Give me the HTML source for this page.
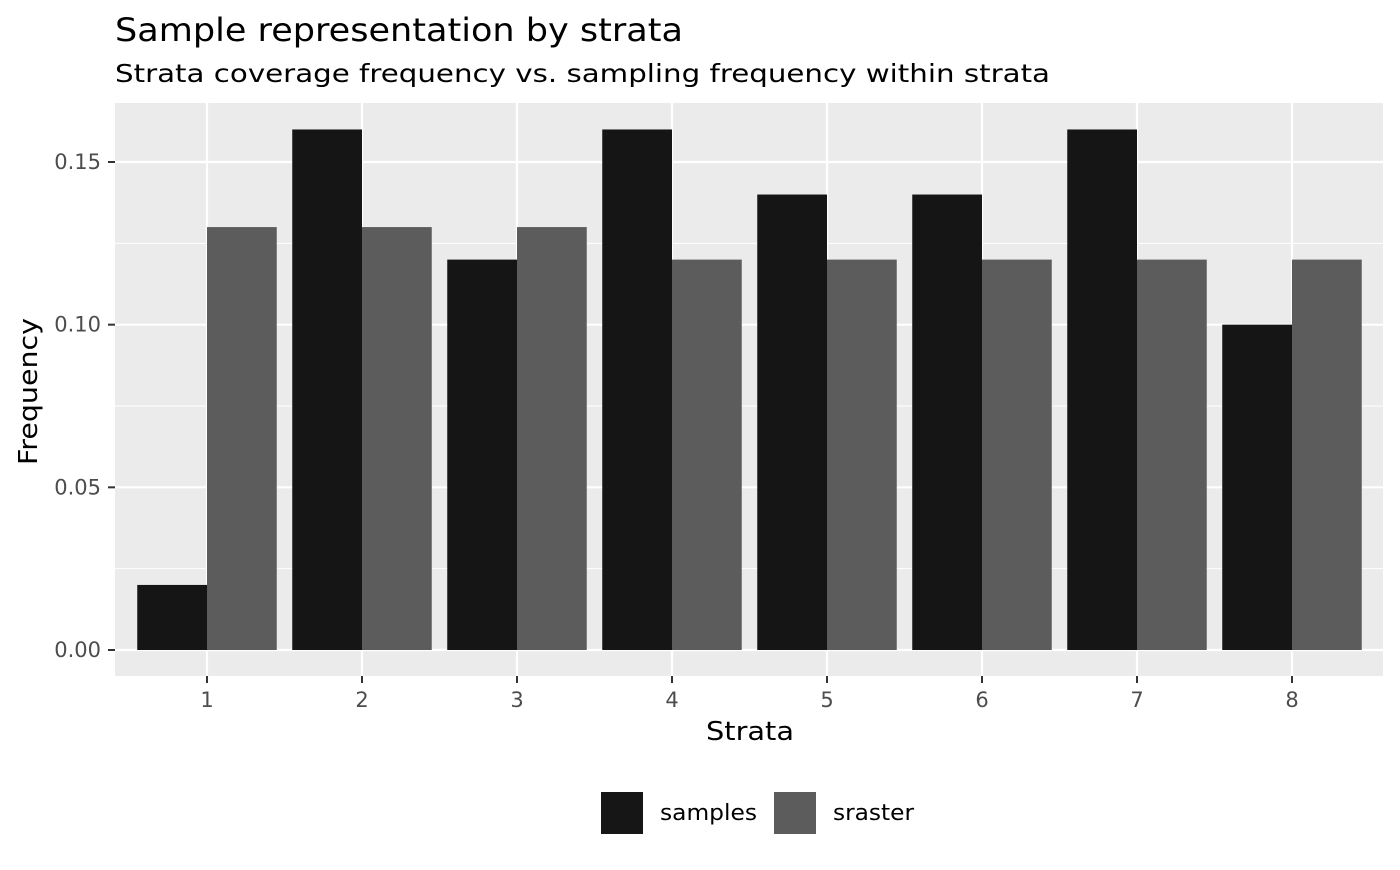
<!DOCTYPE html>
<html><head><meta charset="utf-8"><style>
body{margin:0;background:#fff;}
text{font-family:"DejaVu Sans","Liberation Sans",sans-serif;}
</style></head><body>
<svg id="c" width="1400" height="865" xmlns="http://www.w3.org/2000/svg">
<text x="115" y="41" font-size="32" textLength="568" lengthAdjust="spacingAndGlyphs" fill="#000">Sample representation by strata</text>
<text x="115" y="82" font-size="25" textLength="935" lengthAdjust="spacingAndGlyphs" fill="#000">Strata coverage frequency vs. sampling frequency within strata</text>
<rect x="115" y="103" width="1268" height="573" fill="#ebebeb"/>
<g id="grid"></g><g id="bars"></g><g id="axes"></g>
<text x="706" y="740" font-size="26" textLength="88" lengthAdjust="spacingAndGlyphs" fill="#000">Strata</text>
<text transform="translate(37,465) rotate(-90)" font-size="26" textLength="147" lengthAdjust="spacingAndGlyphs" fill="#000">Frequency</text>
<g>
<rect x="601" y="792" width="42" height="42" fill="#161616"/>
<text x="660" y="820" font-size="22" textLength="97" lengthAdjust="spacingAndGlyphs">samples</text>
<rect x="774" y="792" width="42" height="42" fill="#5c5c5c"/>
<text x="833" y="820" font-size="22" textLength="81" lengthAdjust="spacingAndGlyphs">sraster</text>
</g>
</svg>
<script>
const categories=["1","2","3","4","5","6","7","8"];
const samples=[0.02,0.16,0.12,0.16,0.14,0.14,0.16,0.10];
const sraster=[0.13,0.13,0.13,0.12,0.12,0.12,0.12,0.12];
const yTicks=[0,0.05,0.10,0.15];
const yTickLabels=["0.00","0.05","0.10","0.15"];
const NS="http://www.w3.org/2000/svg";
const y=v=>650-v*(488/0.15);
const x=i=>207+i*155;
function mk(t,a,p){const e=document.createElementNS(NS,t);for(const k in a)e.setAttribute(k,a[k]);p.appendChild(e);return e;}
const grid=document.getElementById('grid'),bars=document.getElementById('bars'),axes=document.getElementById('axes');
for(let i=0;i<yTicks.length-1;i++){const m=(yTicks[i]+yTicks[i+1])/2;
 const l=mk('line',{x1:115,x2:1383,y1:y(m),y2:y(m),stroke:'#fff','stroke-width':1},grid);
 
 }
yTicks.forEach((v,i)=>{
 const l=mk('line',{x1:115,x2:1383,y1:y(v),y2:y(v),stroke:'#fff','stroke-width':2.2},grid);
 
 
 const t=mk('line',{x1:108,x2:115,y1:y(v),y2:y(v),stroke:'#333','stroke-width':2},axes);
 
 
 const tx=mk('text',{x:101,y:y(v)+7,'font-size':21,'text-anchor':'end',fill:'#4d4d4d'},axes);
 tx.textContent=yTickLabels[i];
 
 
});
categories.forEach((c,i)=>{
 const g=mk('line',{x1:x(i),x2:x(i),y1:103,y2:676,stroke:'#fff','stroke-width':2.2},grid);
 
 
 const b1=mk('rect',{x:x(i)-69.75,y:y(samples[i]),width:69.75,height:650-y(samples[i]),fill:'#151515'},bars);
 
 
 const b2=mk('rect',{x:x(i),y:y(sraster[i]),width:69.75,height:650-y(sraster[i]),fill:'#5c5c5c'},bars);
 
 
 const t=mk('line',{x1:x(i),x2:x(i),y1:676,y2:683,stroke:'#333','stroke-width':2},axes);
 
 
 const tx=mk('text',{x:x(i),y:707,'font-size':21,'text-anchor':'middle',fill:'#4d4d4d'},axes);
 tx.textContent=c;
 
 
});
</script>
</body></html>
